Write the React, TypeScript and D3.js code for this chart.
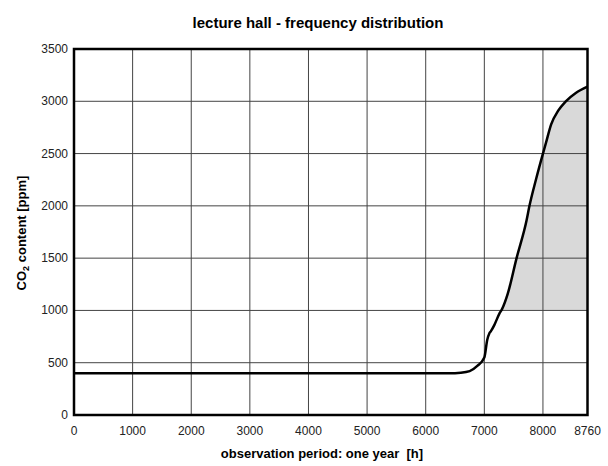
import React from "react";
import * as d3 from "d3";

const hours = [0, 6400, 6600, 6750, 6880, 7000, 7050, 7085, 7110, 7170, 7257, 7300, 7400, 7550, 7720, 7770, 7880, 8000, 8050, 8140, 8260, 8390, 8560, 8760];
const co2 = [400, 400, 405, 420, 470, 550, 720, 780, 800, 860, 970, 1010, 1160, 1500, 1860, 2000, 2250, 2500, 2600, 2780, 2910, 3000, 3080, 3140];
const xTicks = [0, 1000, 2000, 3000, 4000, 5000, 6000, 7000, 8000, 8760];
const yTicks = [0, 500, 1000, 1500, 2000, 2500, 3000, 3500];
const threshold = 1000;

const title = "lecture hall - frequency distribution";
const xLabel = "observation period: one year  [h]";

export default function App() {
  const W = 608, H = 466;
  const left = 74, right = 587.5, top = 49, bottom = 415;
  const x = d3.scaleLinear().domain([0, 8760]).range([left, right]);
  const y = d3.scaleLinear().domain([0, 3500]).range([bottom, top]);
  const pts: [number, number][] = hours.map((h, i) => [h, co2[i]]);
  const line = d3.line<[number, number]>().x(d => x(d[0])).y(d => y(d[1])).curve(d3.curveMonotoneX);
  const area = d3.area<[number, number]>().x(d => x(d[0])).y0(y(threshold)).y1(d => y(d[1])).curve(d3.curveMonotoneX);
  const font = "'Liberation Sans', Arial, sans-serif";
  return (
    <svg width={W} height={H} style={{ position: "absolute", left: 0, top: 0, background: "#fff" }} fontFamily={font}>
      <defs>
        <clipPath id="above">
          <rect x={left} y={top} width={right - left} height={y(threshold) - top} />
        </clipPath>
      </defs>
      <path d={area(pts) || ""} fill="#d9d9d9" clipPath="url(#above)" />
      {xTicks.slice(1, -1).map(t => (
        <line key={"gx" + t} x1={x(t)} x2={x(t)} y1={top} y2={bottom} stroke="#444" strokeWidth={1} />
      ))}
      {yTicks.slice(1, -1).map(t => (
        <line key={"gy" + t} x1={left} x2={right} y1={y(t)} y2={y(t)} stroke="#444" strokeWidth={1} />
      ))}
      <path d={line(pts) || ""} fill="none" stroke="#000" strokeWidth={2.5} strokeLinejoin="round" />
      <rect x={left} y={top} width={right - left} height={bottom - top} fill="none" stroke="#000" strokeWidth={2.5} />
      {xTicks.map(t => (
        <text key={"xt" + t} x={x(t)} y={435} textAnchor="middle" fontSize={12} fill="#222">{t}</text>
      ))}
      {yTicks.map(t => (
        <text key={"yt" + t} x={68} y={y(t) + 4} textAnchor="end" fontSize={12} fill="#222">{t}</text>
      ))}
      <text x={318} y={28} textAnchor="middle" fontSize={15} fontWeight="bold" fill="#000">{title}</text>
      <text x={322} y={458} textAnchor="middle" fontSize={13} fontWeight="bold" fill="#000" style={{ whiteSpace: "pre" }}>{xLabel}</text>
      <text transform={`translate(26,233) rotate(-90)`} textAnchor="middle" fontSize={13} fontWeight="bold" fill="#000">
        CO<tspan fontSize={9} dy={3}>2</tspan><tspan dy={-3}> content [ppm]</tspan>
      </text>
    </svg>
  );
}
